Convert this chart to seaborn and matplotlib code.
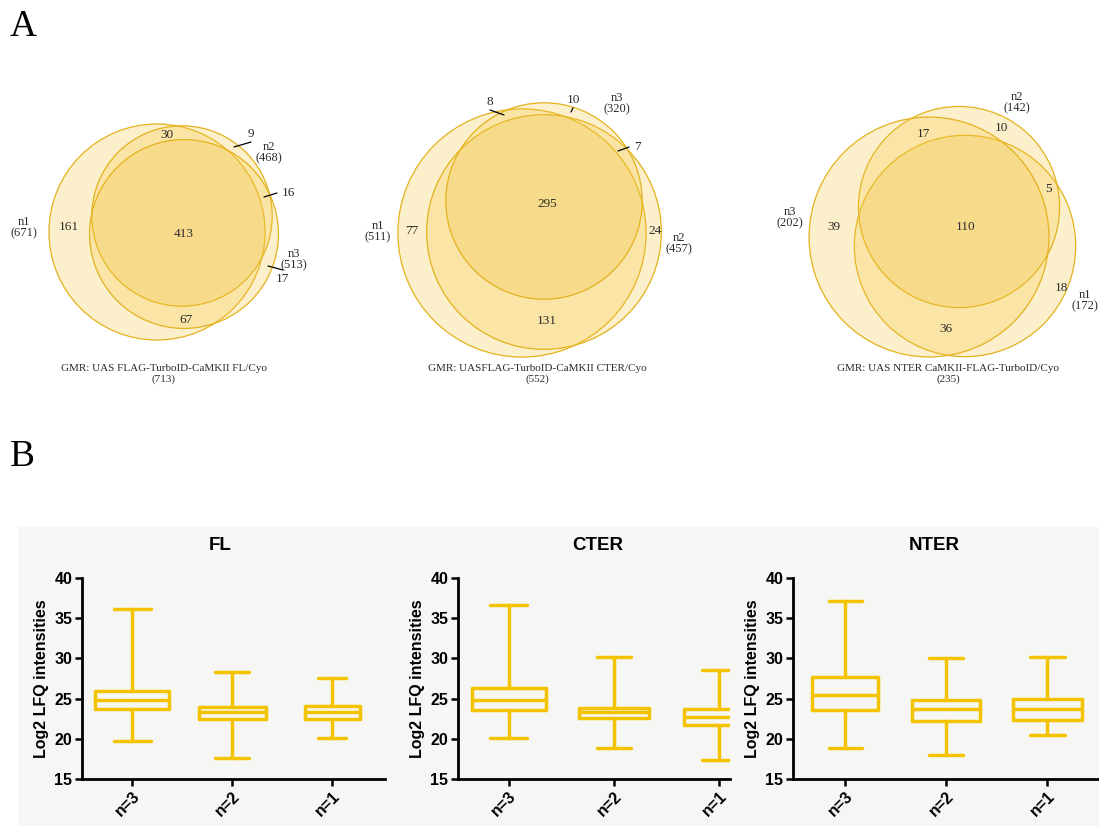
import matplotlib
matplotlib.use("Agg")
import matplotlib.pyplot as plt
import numpy as np
import seaborn as sns
from matplotlib.patches import Circle, Rectangle

# ---- data: panel A (Venn diagrams) ----
venn_captions = [
    "GMR: UAS FLAG-TurboID-CaMKII FL/Cyo",
    "GMR: UASFLAG-TurboID-CaMKII CTER/Cyo",
    "GMR: UAS NTER CaMKII-FLAG-TurboID/Cyo",
]
venn_totals = [713, 552, 235]
set_names = ["n1", "n2", "n3"]
fl_set_sizes = [671, 468, 513]
cter_set_sizes = [511, 457, 320]
nter_set_sizes = [172, 142, 202]
fl_regions = [161, 30, 9, 16, 413, 17, 67]
cter_regions = [77, 8, 10, 7, 295, 24, 131]
nter_regions = [39, 17, 10, 5, 110, 18, 36]

# ---- data: panel B (box plots, Log2 LFQ intensities) ----
box_titles = ["FL", "CTER", "NTER"]
box_groups = ["n=3", "n=2", "n=1"]
fl_lo = [19.7, 17.6, 20.1]
fl_q1 = [23.75, 22.5, 22.5]
fl_med = [24.8, 23.3, 23.35]
fl_q3 = [26.0, 24.0, 24.05]
fl_hi = [36.2, 28.3, 27.5]
cter_lo = [20.1, 18.9, 17.4]
cter_q1 = [23.6, 22.6, 21.75]
cter_med = [24.8, 23.3, 22.7]
cter_q3 = [26.3, 23.85, 23.65]
cter_hi = [36.7, 30.2, 28.55]
nter_lo = [18.85, 17.95, 20.5]
nter_q1 = [23.55, 22.25, 22.35]
nter_med = [25.45, 23.65, 23.65]
nter_q3 = [27.65, 24.85, 24.95]
nter_hi = [37.2, 30.05, 30.15]

# ---- layout (pixels of the 1099x826 figure) ----
W, H = 1099, 826
venn_layout = [
    # scale (px per sqrt(count)), circle centres n1,n2,n3, label spots
    dict(k=4.17, centres=[(157, 232), (182, 216), (184, 234)], cap_x=164,
         set_lab=[(24, 228), (269, 153), (294, 260)],
         reg_lab=[(69, 227), (167, 135), (251, 134), (288, 193), (184, 234), (282, 279), (186, 320)],
         leaders=[None, None, ((234, 147), (251, 142)), ((264, 197), (277, 193)), None,
                  ((268, 266), (283, 270)), None]),
    dict(k=5.49, centres=[(522, 233), (544, 232), (544, 201)], cap_x=537,
         set_lab=[(378, 232), (679, 244), (617, 104)],
         reg_lab=[(412, 231), (490, 102), (573, 100), (637, 147), (547, 204), (655, 231), (547, 321)],
         leaders=[None, ((490, 110), (504, 115)), ((571, 112), (573, 108)),
                  ((618, 151), (629, 147)), None, None, None]),
    dict(k=8.44, centres=[(965, 246), (959, 207), (929, 237)], cap_x=948,
         set_lab=[(1085, 301), (1017, 103), (790, 218)],
         reg_lab=[(834, 227), (923, 134), (1001, 128), (1048, 189), (966, 227), (1061, 288), (946, 329)],
         leaders=[None] * 7),
]
box_axes_px = [(82, 385), (458, 730), (793, 1098)]
box_xlims = [(-0.5, 2.53), (-0.48, 2.1), (-0.515, 2.5)]
box_widths = [[0.74, 0.67, 0.55], [0.70, 0.66, 0.68], [0.65, 0.67, 0.68]]
title_x = [0.455, 0.515, 0.462]
ax_top, ax_bot = 578, 779

yellow = "#F3C300"
venn_fill = "#F5C53A"
venn_edge = "#E3B21E"

sns.set_theme(style="ticks")
plt.rcParams["font.family"] = ["Liberation Sans", "DejaVu Sans"]
plt.rcParams.update({"text.color": "black", "axes.labelcolor": "black",
                     "xtick.color": "black", "ytick.color": "black"})

fig = plt.figure(figsize=(W / 100, H / 100), dpi=100)

# light background behind panel B
fig.patches.append(Rectangle((18 / W, 0), 1 - 18 / W, 1 - 527 / H, transform=fig.transFigure,
                             facecolor="#f6f6f4", edgecolor="none", zorder=-5))

# ---- panel A ----
va = fig.add_axes([0, 0, 1, 1])
va.set_xlim(0, W)
va.set_ylim(H, 0)
va.axis("off")
va.patch.set_alpha(0)

serif = ["Liberation Serif", "DejaVu Serif"]
txt = "#2b2b2b"
all_sizes = [fl_set_sizes, cter_set_sizes, nter_set_sizes]
all_regions = [fl_regions, cter_regions, nter_regions]
for lay, sizes, regions, cap, tot in zip(venn_layout, all_sizes, all_regions, venn_captions, venn_totals):
    for (cx, cy), n in zip(lay["centres"], sizes):
        r = lay["k"] * np.sqrt(n)
        va.add_patch(Circle((cx, cy), r, facecolor=venn_fill, alpha=0.26, edgecolor="none"))
        va.add_patch(Circle((cx, cy), r, facecolor="none", edgecolor=venn_edge, lw=0.9))
    for (x, y), name, n in zip(lay["set_lab"], set_names, sizes):
        va.text(x, y, f"{name}\n({n})", ha="center", va="center", fontsize=9,
                family=serif, color=txt, linespacing=0.95)
    for (x, y), val, ld in zip(lay["reg_lab"], regions, lay["leaders"]):
        va.text(x, y, str(val), ha="center", va="center", fontsize=9.5, family=serif, color=txt)
        if ld is not None:
            va.plot([ld[0][0], ld[1][0]], [ld[0][1], ld[1][1]], color="black", lw=0.9)
    va.text(lay["cap_x"], 374, f"{cap}\n({tot})", ha="center", va="center", fontsize=8,
            family=serif, color=txt, linespacing=1.1)

fig.text(10 / W, 1 - 27 / H, "A", fontsize=27, family=serif, va="center", ha="left")
fig.text(10 / W, 1 - 457 / H, "B", fontsize=27, family=serif, va="center", ha="left")

# ---- panel B ----
lo_all = [fl_lo, cter_lo, nter_lo]
q1_all = [fl_q1, cter_q1, nter_q1]
med_all = [fl_med, cter_med, nter_med]
q3_all = [fl_q3, cter_q3, nter_q3]
hi_all = [fl_hi, cter_hi, nter_hi]

for i, title in enumerate(box_titles):
    x0, x1 = box_axes_px[i]
    ax = fig.add_axes([x0 / W, 1 - ax_bot / H, (x1 - x0) / W, (ax_bot - ax_top) / H])
    ax.patch.set_alpha(0)
    stats = [
        dict(whislo=lo, q1=a, med=m, q3=b, whishi=hi, label=g)
        for lo, a, m, b, hi, g in zip(lo_all[i], q1_all[i], med_all[i], q3_all[i], hi_all[i], box_groups)
    ]
    line = dict(color=yellow, linewidth=2.5)
    ax.bxp(stats, positions=range(len(box_groups)), widths=box_widths[i], showfliers=False,
           boxprops=line, whiskerprops=line, capprops=line, medianprops=line)
    ax.set_xlim(*box_xlims[i])
    ax.set_ylim(15, 40)
    ax.set_yticks([15, 20, 25, 30, 35, 40])
    ax.set_xticks(range(len(box_groups)))
    ax.set_xticklabels(box_groups, rotation=45, ha="right", rotation_mode="anchor",
                       fontsize=11.5, fontweight="bold")
    for lab in ax.get_yticklabels():
        lab.set_fontsize(11.5)
        lab.set_fontweight("bold")
    ax.tick_params(axis="both", direction="out", length=5, width=1.8, color="black", pad=2)
    ax.set_ylabel("Log2 LFQ intensities", fontsize=11.5, fontweight="bold", labelpad=4)
    ax.set_title(title, fontsize=13.5, fontweight="bold", x=title_x[i], pad=20)
    sns.despine(ax=ax)
    for s in ["left", "bottom"]:
        ax.spines[s].set_linewidth(2)
        ax.spines[s].set_color("black")

fig.savefig("out.png", dpi=100)
